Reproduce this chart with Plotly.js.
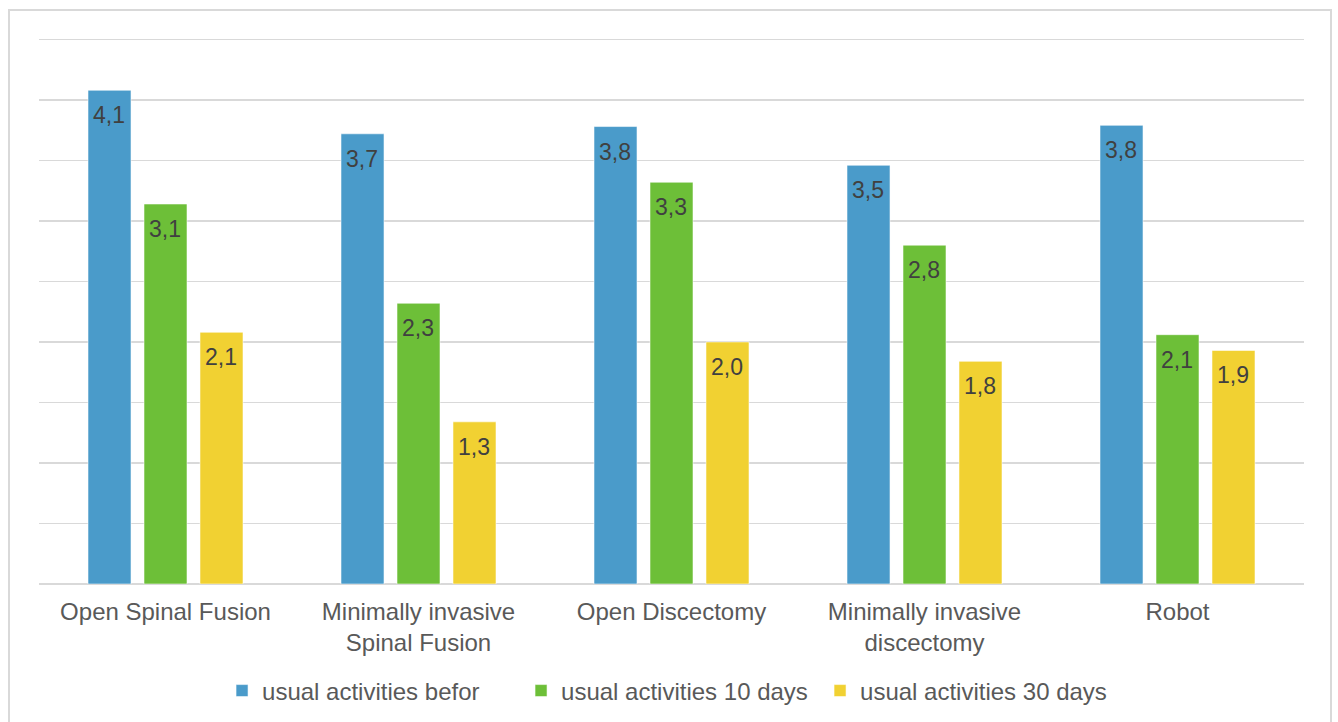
<!DOCTYPE html>
<html>
<head>
<meta charset="utf-8">
<script src="https://cdn.plot.ly/plotly-3.0.1.min.js"></script>
<style>
  html, body { margin: 0; padding: 0; background: #ffffff; }
  #wrap { position: relative; width: 1338px; height: 722px; overflow: hidden; }
  #chart { width: 1338px; height: 722px; }
  #frame {
    position: absolute; left: 8px; top: 9px; width: 1324px; height: 740px;
    border: 2px solid #d9d9d9; pointer-events: none; box-sizing: border-box;
  }
</style>
</head>
<body>
<div id="wrap">
  <div id="chart"></div>
  <div id="frame"></div>
</div>
<script>
// Procedure groups along the x axis
const categories = [
  'Open Spinal Fusion',
  'Minimally invasive<br>Spinal Fusion',
  'Open Discectomy',
  'Minimally invasive<br>discectomy',
  'Robot'
];

// Mean scores for usual activities at each time point
const seriesNames = [
  'usual activities befor',
  'usual activities 10 days',
  'usual activities 30 days'
];
const before = [4.08, 3.72, 3.78, 3.46, 3.79];
const days10 = [3.14, 2.32, 3.32, 2.80, 2.06];
const days30 = [2.08, 1.34, 2.00, 1.84, 1.93];

const seriesValues = [before, days10, days30];
const seriesColors = ['#4a9bca', '#6dbf38', '#f1d132'];

const traces = seriesValues.map((vals, i) => ({
  type: 'bar',
  name: seriesNames[i],
  x: categories,
  y: vals,
  marker: { color: seriesColors[i], line: { color: 'rgba(255,255,255,0.55)', width: 1 } },
  hoverinfo: 'x+y+name'
}));

// Value labels sit just inside the top of each bar
const fmt = v => v.toFixed(1).replace('.', ',');
const slotPx = 56;
const annotations = [];
seriesValues.forEach((vals, i) => {
  vals.forEach((v, j) => {
    annotations.push({
      x: categories[j], y: v, xref: 'x', yref: 'y',
      xshift: (i - 1) * slotPx - 1, yshift: -10,
      yanchor: 'top', xanchor: 'center',
      text: fmt(v), showarrow: false,
      font: { family: 'Liberation Sans, Arial, sans-serif', size: 23, color: '#404040' }
    });
  });
});

const layout = {
  width: 1338,
  height: 722,
  margin: { l: 39, r: 34, t: 37, b: 138, autoexpand: false },
  paper_bgcolor: '#ffffff',
  plot_bgcolor: '#ffffff',
  barmode: 'group',
  bargap: 0.336,
  bargroupgap: 0.232,
  font: { family: 'Liberation Sans, Arial, sans-serif', color: '#595959' },
  xaxis: {
    type: 'category',
    showgrid: false,
    ticks: '',
    showline: false,
    automargin: false,
    tickfont: { size: 24, color: '#595959' },
    ticklabelstandoff: 11
  },
  yaxis: {
    range: [0, 4.52],
    dtick: 0.5,
    tick0: 0,
    showticklabels: false,
    ticks: '',
    showgrid: true,
    gridcolor: '#d9d9d9',
    gridwidth: 1.5,
    zeroline: true,
    zerolinecolor: '#d9d9d9',
    zerolinewidth: 2,
    showline: false
  },
  showlegend: true,
  legend: {
    orientation: 'h',
    x: 0.1447, xanchor: 'left',
    y: -0.1956, yanchor: 'middle',
    font: { size: 24, color: '#595959' },
    itemwidth: 30,
    entrywidth: 254,
    entrywidthmode: 'pixels',
    traceorder: 'normal'
  },
  annotations: annotations
};

Plotly.newPlot('chart', traces, layout, { displayModeBar: false, staticPlot: true });
</script>
</body>
</html>
